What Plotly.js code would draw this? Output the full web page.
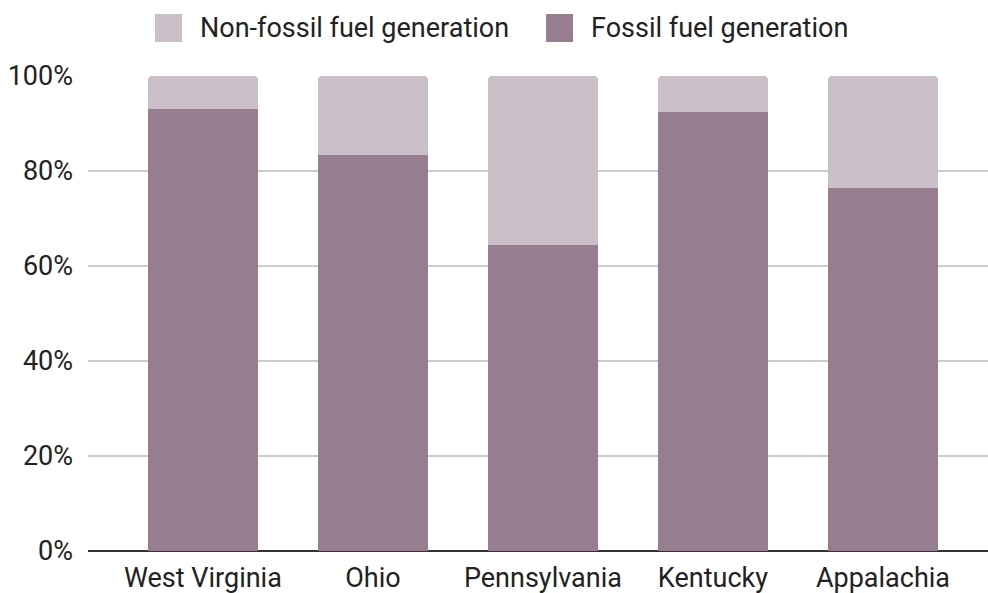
<!DOCTYPE html>
<html>
<head>
<meta charset="utf-8">
<script src="https://cdn.plot.ly/plotly-3.0.1.min.js"></script>
<style>html,body{margin:0;padding:0;background:#fff;}#chart{width:988px;height:593px;}</style>
</head>
<body>
<div id="chart"></div>
<script>
const categories = ["West Virginia", "Ohio", "Pennsylvania", "Kentucky", "Appalachia"];
const fossil = [93.1, 83.4, 64.4, 92.4, 76.4];
const nonFossil = [6.9, 16.6, 35.6, 7.6, 23.6];
const tickVals = [0, 20, 40, 60, 80, 100];
const tickText = ["0%", "20%", "40%", "60%", "80%", "100%"];
const seriesNames = ["Non-fossil fuel generation", "Fossil fuel generation"];
const seriesColors = ["#cabec8", "#967e90"];

const W = 988, H = 593, ML = 88, MR = 0, MT = 76, MB = 42;
const PW = W - ML - MR, PH = H - MT - MB;
const px = v => (v - ML) / PW;
const py = v => (H - MB - v) / PH;

const traces = [
  {type: "bar", name: seriesNames[1], x: categories, y: fossil,
   marker: {color: seriesColors[1]}, showlegend: false},
  {type: "bar", name: seriesNames[0], x: categories, y: nonFossil,
   marker: {color: seriesColors[0]}, showlegend: false}
];

// custom legend (large swatches like the original)
const legendItems = [
  {sx: 155, tx: 198, name: seriesNames[0], color: seriesColors[0]},
  {sx: 546, tx: 589, name: seriesNames[1], color: seriesColors[1]}
];
const shapes = legendItems.map(it => ({
  type: "rect", xref: "paper", yref: "paper",
  x0: px(it.sx), x1: px(it.sx + 27), y0: py(42), y1: py(14),
  fillcolor: it.color, line: {width: 0}, layer: "above"
}));
const annotations = legendItems.map(it => ({
  xref: "paper", yref: "paper", x: px(it.tx), y: py(28), xanchor: "left", yanchor: "middle",
  text: it.name, showarrow: false, font: {family: "Roboto, sans-serif", size: 27, color: "#222"}
}));

const layout = {
  width: W, height: H,
  margin: {l: ML, r: MR, t: MT, b: MB},
  barmode: "stack",
  bargap: 0.353,
  barcornerradius: 4,
  font: {family: "Roboto, sans-serif", size: 27, color: "#222"},
  paper_bgcolor: "#fff", plot_bgcolor: "#fff",
  showlegend: false,
  shapes: shapes,
  annotations: annotations,
  xaxis: {type: "category", range: [-0.676, 4.618], showgrid: false, zeroline: false,
          showline: false, ticks: "", ticklabelstandoff: 8,
          tickfont: {size: 27, color: "#222"}, fixedrange: true},
  yaxis: {range: [0, 100], tickvals: tickVals, ticktext: tickText, showgrid: true,
          gridcolor: "#cccccc", gridwidth: 1.5, zeroline: true, zerolinecolor: "#333",
          zerolinewidth: 1.5, showline: false, ticks: "", ticklabelstandoff: 14,
          tickfont: {size: 27, color: "#222"}, layer: "above traces", fixedrange: true}
};
Plotly.newPlot("chart", traces, layout, {displayModeBar: false, staticPlot: true});
</script>
</body>
</html>
